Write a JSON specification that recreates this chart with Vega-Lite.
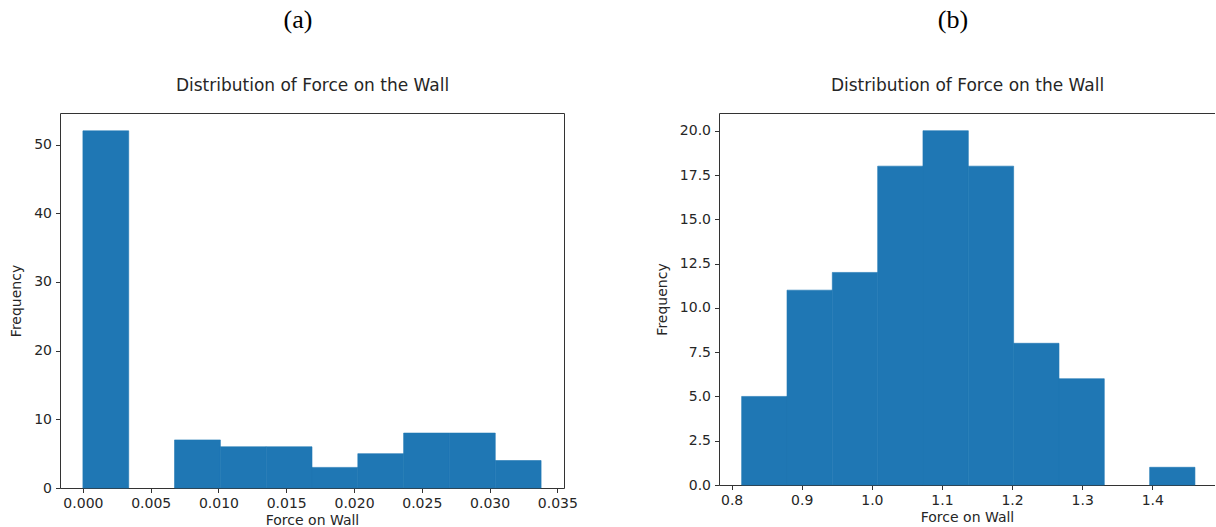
{
  "$schema": "https://vega.github.io/schema/vega-lite/v6.json",
  "padding": {"left": 9, "top": 6, "right": 0, "bottom": 0},
  "background": "white",
  "spacing": 155,
  "bounds": "flush",
  "config": {
    "view": {"stroke": "#333333", "strokeWidth": 1},
    "axis": {
      "grid": false,
      "labelFont": "DejaVu Sans",
      "labelFontSize": 14,
      "labelColor": "#262626",
      "titleFont": "DejaVu Sans",
      "titleFontSize": 14,
      "titleFontWeight": "normal",
      "titleColor": "#262626",
      "tickColor": "#333333",
      "tickSize": 4.5,
      "domainColor": "#333333",
      "labelPadding": 4
    },
    "title": {"font": "Liberation Serif", "fontSize": 26, "fontWeight": "normal", "color": "#000000", "baseline": "alphabetic"}
  },
  "datasets": {
    "a": [
      {"bin_start": 0.0, "bin_end": 0.00338, "count": 52},
      {"bin_start": 0.00676, "bin_end": 0.01014, "count": 7},
      {"bin_start": 0.01014, "bin_end": 0.01352, "count": 6},
      {"bin_start": 0.01352, "bin_end": 0.0169, "count": 6},
      {"bin_start": 0.0169, "bin_end": 0.02028, "count": 3},
      {"bin_start": 0.02028, "bin_end": 0.02366, "count": 5},
      {"bin_start": 0.02366, "bin_end": 0.02704, "count": 8},
      {"bin_start": 0.02704, "bin_end": 0.03042, "count": 8},
      {"bin_start": 0.03042, "bin_end": 0.0338, "count": 4}
    ],
    "b": [
      {"bin_start": 0.8143, "bin_end": 0.879, "count": 5},
      {"bin_start": 0.879, "bin_end": 0.9436, "count": 11},
      {"bin_start": 0.9436, "bin_end": 1.0083, "count": 12},
      {"bin_start": 1.0083, "bin_end": 1.0729, "count": 18},
      {"bin_start": 1.0729, "bin_end": 1.1376, "count": 20},
      {"bin_start": 1.1376, "bin_end": 1.2022, "count": 18},
      {"bin_start": 1.2022, "bin_end": 1.2669, "count": 8},
      {"bin_start": 1.2669, "bin_end": 1.3315, "count": 6},
      {"bin_start": 1.3962, "bin_end": 1.4608, "count": 1}
    ]
  },
  "hconcat": [
    {
      "width": 504,
      "height": 375,
      "title": {"text": "(a)", "dx": -14, "offset": 43},
      "data": {"name": "a"},
      "layer": [
        {
          "mark": {"type": "bar", "color": "#1f77b4", "stroke": "#1f77b4", "strokeWidth": 0.6},
          "encoding": {
            "x": {"field": "bin_start", "type": "quantitative",
              "scale": {"domain": [-0.00169, 0.03549], "nice": false, "zero": false},
              "axis": {"title": "Force on Wall", "values": [0, 0.005, 0.01, 0.015, 0.02, 0.025, 0.03, 0.035], "format": ".3f", "domain": false, "titlePadding": 3}},
            "x2": {"field": "bin_end"},
            "y": {"field": "count", "type": "quantitative",
              "scale": {"domain": [0, 54.6], "nice": false},
              "axis": {"title": "Frequency", "values": [0, 10, 20, 30, 40, 50], "format": "d", "domain": false, "titlePadding": 10}},
            "y2": {"datum": 0}
          }
        },
        {
          "mark": {"type": "bar", "opacity": 0},
          "encoding": {
            "x": {"field": "bin_start", "type": "quantitative",
              "axis": {"orient": "top", "title": "Distribution of Force on the Wall", "titleFontSize": 17, "labels": false, "ticks": false, "domain": false, "titlePadding": 19}},
            "x2": {"field": "bin_end"},
            "y": {"field": "count", "type": "quantitative"},
            "y2": {"datum": 0}
          }
        }
      ],
      "resolve": {"axis": {"x": "independent"}}
    },
    {
      "width": 496,
      "height": 372,
      "view": {"stroke": null},
      "title": {"text": "(b)", "dx": -14, "offset": 43},
      "data": {"name": "b"},
      "layer": [
        {
          "mark": {"type": "bar", "color": "#1f77b4", "stroke": "#1f77b4", "strokeWidth": 0.6},
          "encoding": {
            "x": {"field": "bin_start", "type": "quantitative",
              "scale": {"domain": [0.782, 1.4894], "nice": false, "zero": false},
              "axis": {"title": "Force on Wall", "values": [0.8, 0.9, 1.0, 1.1, 1.2, 1.3, 1.4], "format": ".1f", "domain": true, "titlePadding": 3}},
            "x2": {"field": "bin_end"},
            "y": {"field": "count", "type": "quantitative",
              "scale": {"domain": [0, 21], "nice": false},
              "axis": {"title": "Frequency", "values": [0, 2.5, 5, 7.5, 10, 12.5, 15, 17.5, 20], "format": ".1f", "domain": true, "titlePadding": 10}},
            "y2": {"datum": 0}
          }
        },
        {
          "mark": {"type": "bar", "opacity": 0},
          "encoding": {
            "x": {"field": "bin_start", "type": "quantitative",
              "axis": {"orient": "top", "title": "Distribution of Force on the Wall", "titleFontSize": 17, "labels": false, "ticks": false, "domain": true, "titlePadding": 19}},
            "x2": {"field": "bin_end"},
            "y": {"field": "count", "type": "quantitative"},
            "y2": {"datum": 0}
          }
        }
      ],
      "resolve": {"axis": {"x": "independent"}}
    }
  ]
}
